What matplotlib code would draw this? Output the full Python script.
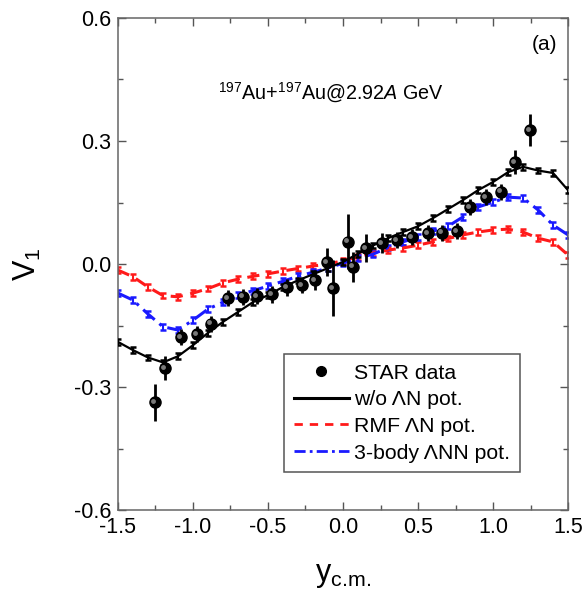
import numpy as np
import matplotlib
matplotlib.use("Agg")
import matplotlib.pyplot as plt
from matplotlib.lines import Line2D
from matplotlib.transforms import offset_copy

plt.rcParams['font.family'] = ['Liberation Sans', 'DejaVu Sans']
plt.rcParams['mathtext.fontset'] = 'custom'
plt.rcParams['mathtext.rm'] = 'Liberation Sans'
plt.rcParams['mathtext.it'] = 'Liberation Sans:italic'

# STAR data
star_y = [-1.253, -1.187, -1.08, -0.973, -0.88, -0.767, -0.667, -0.573, -0.473, -0.373,
          -0.273, -0.187, -0.107, -0.067, 0.033, 0.067, 0.153, 0.26, 0.36, 0.46,
          0.567, 0.66, 0.76, 0.847, 0.953, 1.053, 1.147, 1.247]
star_v1 = [-0.337, -0.254, -0.178, -0.171, -0.146, -0.083, -0.080, -0.078, -0.074, -0.057,
           -0.051, -0.039, 0.005, -0.059, 0.054, -0.007, 0.039, 0.051, 0.058, 0.066,
           0.075, 0.076, 0.080, 0.139, 0.163, 0.176, 0.249, 0.327]
star_err = [0.045, 0.03, 0.02, 0.02, 0.02, 0.02, 0.02, 0.02, 0.02, 0.02,
            0.02, 0.024, 0.034, 0.068, 0.067, 0.037, 0.033, 0.025, 0.02, 0.02,
            0.02, 0.02, 0.02, 0.02, 0.02, 0.02, 0.03, 0.04]

# model rapidity grid
model_y = [-1.5, -1.4, -1.3, -1.2, -1.1, -1.0, -0.9, -0.8, -0.7, -0.6, -0.5, -0.4, -0.3,
           -0.2, -0.1, 0.0, 0.1, 0.2, 0.3, 0.4, 0.5, 0.6, 0.7, 0.8, 0.9, 1.0, 1.1, 1.2,
           1.3, 1.4, 1.5]
v1_noLN = [-0.19, -0.21, -0.228, -0.24, -0.225, -0.198, -0.168, -0.141, -0.117, -0.093,
           -0.076, -0.056, -0.04, -0.025, -0.01, 0.005, 0.025, 0.045, 0.063, 0.078,
           0.092, 0.112, 0.134, 0.156, 0.18, 0.2, 0.224, 0.237, 0.228, 0.222, 0.18]
v1_rmf = [-0.015, -0.031, -0.056, -0.077, -0.08, -0.071, -0.06, -0.046, -0.037, -0.03,
          -0.024, -0.017, -0.011, -0.005, 0.0, 0.008, 0.017, 0.027, 0.034, 0.039,
          0.046, 0.054, 0.062, 0.071, 0.078, 0.083, 0.085, 0.078, 0.063, 0.054, 0.022]
v1_3body = [-0.071, -0.088, -0.122, -0.153, -0.161, -0.137, -0.11, -0.093, -0.076, -0.065,
            -0.054, -0.042, -0.03, -0.02, -0.01, 0.002, 0.014, 0.024, 0.04, 0.054,
            0.066, 0.08, 0.092, 0.115, 0.139, 0.151, 0.163, 0.161, 0.132, 0.095, 0.071]
model_err = 0.007

fig = plt.figure(figsize=(5.82, 5.94), dpi=100)
ax = fig.add_axes([0.2027, 0.1414, 0.7733, 0.8283])

ax.errorbar(model_y, v1_rmf, yerr=model_err, color='#ff1a1a', lw=2.2, ls=(0, (4, 2.5)),
            capsize=2.5, elinewidth=1.5, capthick=1.8, zorder=2)
ax.errorbar(model_y, v1_3body, yerr=model_err, color='#1a1aff', lw=2.2,
            ls=(0, (5, 2, 1, 2)), capsize=2.5, elinewidth=1.5, capthick=1.8, zorder=2)
ax.errorbar(model_y, v1_noLN, yerr=model_err, color='black', lw=1.6, ls='-',
            capsize=2.5, elinewidth=1.5, capthick=1.8, zorder=3)

ax.errorbar(star_y, star_v1, yerr=star_err, fmt='o', color='black', ms=8,
            elinewidth=2, capsize=0, zorder=4)
hl = offset_copy(ax.transData, fig=fig, x=-1.2, y=1.0, units='points')
ax.plot(star_y, star_v1, 'o', ms=3.5, color='#9a9a9a', alpha=0.8, mec='none',
        transform=hl, zorder=5)

ax.set_xlim(-1.5, 1.5)
ax.set_ylim(-0.6, 0.6)
ax.set_xticks([-1.5, -1.0, -0.5, 0.0, 0.5, 1.0, 1.5])
ax.set_xticks(np.arange(-1.25, 1.5, 0.5), minor=True)
ax.set_yticks([-0.6, -0.3, 0.0, 0.3, 0.6])
ax.set_yticks([-0.45, -0.15, 0.15, 0.45], minor=True)
ax.set_xticklabels(['-1.5', '-1.0', '-0.5', '0.0', '0.5', '1.0', '1.5'])
ax.set_yticklabels(['-0.6', '-0.3', '0.0', '0.3', '0.6'])
ax.tick_params(which='both', direction='in', top=True, right=True, labelsize=15.5,
               color='#555555', width=1)
ax.tick_params(which='major', length=6, pad=5)
ax.tick_params(which='minor', length=3.5)
for s in ax.spines.values():
    s.set_color('#666666')
    s.set_linewidth(1.1)

ax.set_xlabel(r'y$_{\mathrm{c.\!m.}}$', fontsize=22, labelpad=16)
ax.set_ylabel(r'V$_1$', fontsize=22, labelpad=22)

ax.text(0.222, 0.848, r'$^{197}$Au+$^{197}$Au@2.92$\it{A}$ GeV', transform=ax.transAxes,
        fontsize=14.2, va='center', ha='left')
ax.text(0.975, 0.947, '(a)', transform=ax.transAxes, fontsize=15, va='center', ha='right')

handles = [
    Line2D([], [], marker='o', ls='none', color='black', ms=7),
    Line2D([], [], color='black', lw=2.2),
    Line2D([], [], color='#ff1a1a', lw=2, ls=(0, (3, 2.5))),
    Line2D([], [], color='#1a1aff', lw=2, ls=(0, (4, 1.5, 1, 1.5))),
]
labels = ['STAR data', 'w/o ΛN pot.', 'RMF ΛN pot.', '3-body ΛNN pot.']
leg = ax.legend(handles, labels, loc='lower left', bbox_to_anchor=(0.369, 0.077),
                fontsize=15.3, frameon=True, fancybox=False, edgecolor='#555555',
                framealpha=1, handlelength=2.6, handletextpad=0.25, labelspacing=0.36,
                borderpad=0.45, borderaxespad=0)
leg.get_frame().set_linewidth(1.1)

fig.savefig('out.png', dpi=100)
